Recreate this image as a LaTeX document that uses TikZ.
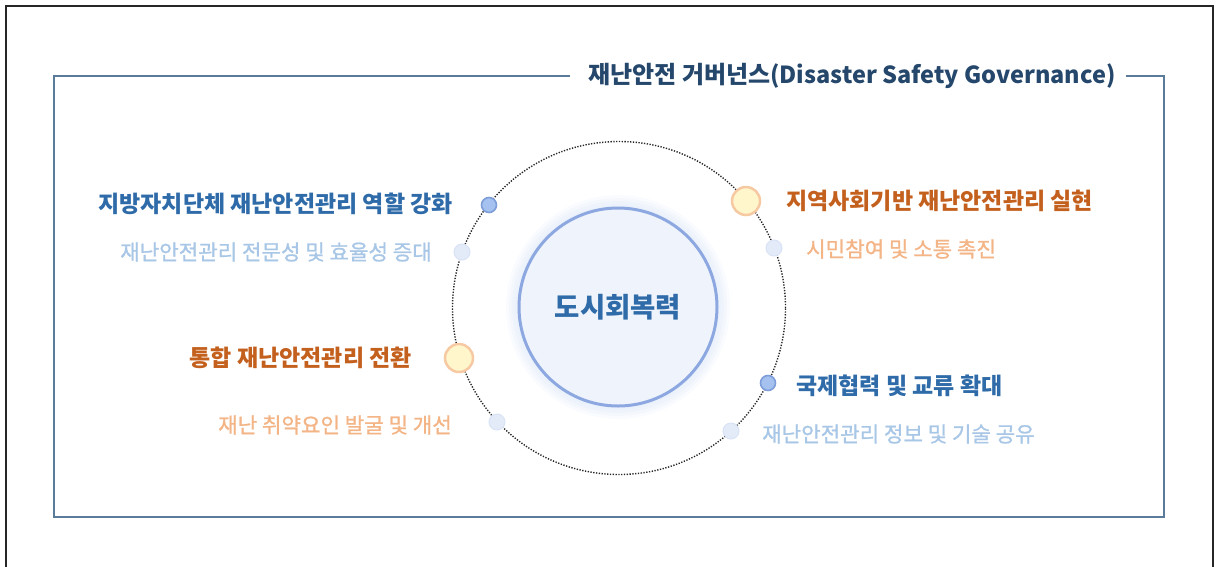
\documentclass[tikz,border=0pt]{standalone}
\usepackage{fontspec}
\setmainfont{Noto Sans CJK KR}
\newfontfamily\krmed[FakeBold=1]{Noto Sans CJK KR}
\definecolor{frameblue}{HTML}{5A7B99}
\definecolor{titlecol}{HTML}{24476B}
\definecolor{darkblue}{HTML}{2E6BA8}
\definecolor{lightblue}{HTML}{A8C6E6}
\definecolor{orangetxt}{HTML}{C4601D}
\definecolor{lightorange}{HTML}{F3B486}
\definecolor{ringblue}{HTML}{8DA8E0}
\definecolor{innerfill}{HTML}{EFF4FC}
\definecolor{glow}{HTML}{EAF1FB}
\definecolor{bluedotfill}{HTML}{A5C1EF}
\definecolor{bluedotdraw}{HTML}{7E9ED9}
\definecolor{lightdotfill}{HTML}{E4EBF8}
\definecolor{lightdotdraw}{HTML}{D9E3F5}
\definecolor{yelfill}{HTML}{FFF6CC}
\definecolor{yeldraw}{HTML}{F7C9A2}
\begin{document}
\begin{tikzpicture}[x=1pt,y=-1pt,
  head/.style={font=\fontsize{23}{27}\selectfont\bfseries, inner sep=0pt},
  sub/.style={font=\fontsize{21.2}{25}\selectfont\krmed, inner sep=0pt},
  dotblue/.style={circle, minimum size=15pt, inner sep=0pt, fill=bluedotfill, draw=bluedotdraw, line width=1.6pt},
  dotlight/.style={circle, minimum size=16pt, inner sep=0pt, fill=lightdotfill, draw=lightdotdraw, line width=1pt},
  dotyellow/.style={circle, minimum size=28pt, inner sep=0pt, fill=yelfill, draw=yeldraw, line width=2.5pt},
  ring/.style={draw=black!85, line width=1.4pt, dash pattern=on 1.3pt off 1.5pt}]
\useasboundingbox (0,0) rectangle (1216,566);
% outer frame
\draw[line width=1.6pt, black!85] (6,575) -- (6,6) -- (1213,6) -- (1213,575);
% title and inner frame
\node[font=\bfseries, text=titlecol, inner sep=0pt, anchor=west] (title) at (588,76) {\fontsize{24}{28}\selectfont 재난안전 거버넌스\fontsize{23.5}{28}\selectfont(Disaster Safety Governance)};
\draw[frameblue, line width=1.6pt] ([xshift=-18pt]title.west) -- (54,76) -- (54,517) -- (1164,517) -- (1164,76) -- ([xshift=10pt]title.east);
% dotted ring
\node[circle, minimum size=333pt, inner sep=0pt, ring] (ring) at (619,308) {};
% inner circle glow
\foreach \r/\o in {112/0.25,109/0.35,106/0.5,103/0.7} {\fill[glow, opacity=\o] (618,307) circle (\r);}
\node[circle, minimum size=198pt, inner sep=0pt, fill=innerfill, draw=ringblue, line width=3pt,
  font=\fontsize{27.5}{32}\selectfont\bfseries, text=darkblue] (core) at (618,307) {도시회복력};
% dots
\node[dotblue] (d1) at (489,205) {};
\node[dotlight] (d2) at (462,252) {};
\node[dotyellow] (d3) at (746,201) {};
\node[dotlight] (d4) at (774,248) {};
\node[dotyellow] (d5) at (459,358) {};
\node[dotlight] (d6) at (497,422) {};
\node[dotblue] (d7) at (768,383) {};
\node[dotlight] (d8) at (731,431) {};
% texts
\node[head, text=darkblue, anchor=east] (t1) at (453,204) {지방자치단체 재난안전관리 역할 강화};
\node[sub, text=lightblue, anchor=east] (s1) at (432,252) {재난안전관리 전문성 및 효율성 증대};
\node[head, text=orangetxt, anchor=west] (t2) at (786,201) {지역사회기반 재난안전관리 실현};
\node[sub, text=lightorange, anchor=west] (s2) at (806,249) {시민참여 및 소통 촉진};
\node[head, text=orangetxt, anchor=east] (t3) at (412,358) {통합 재난안전관리 전환};
\node[sub, text=lightorange, anchor=east] (s3) at (452,425) {재난 취약요인 발굴 및 개선};
\node[head, text=darkblue, anchor=west] (t4) at (796,386) {국제협력 및 교류 확대};
\node[sub, text=lightblue, anchor=west] (s4) at (762,434) {재난안전관리 정보 및 기술 공유};
\end{tikzpicture}
\end{document}
